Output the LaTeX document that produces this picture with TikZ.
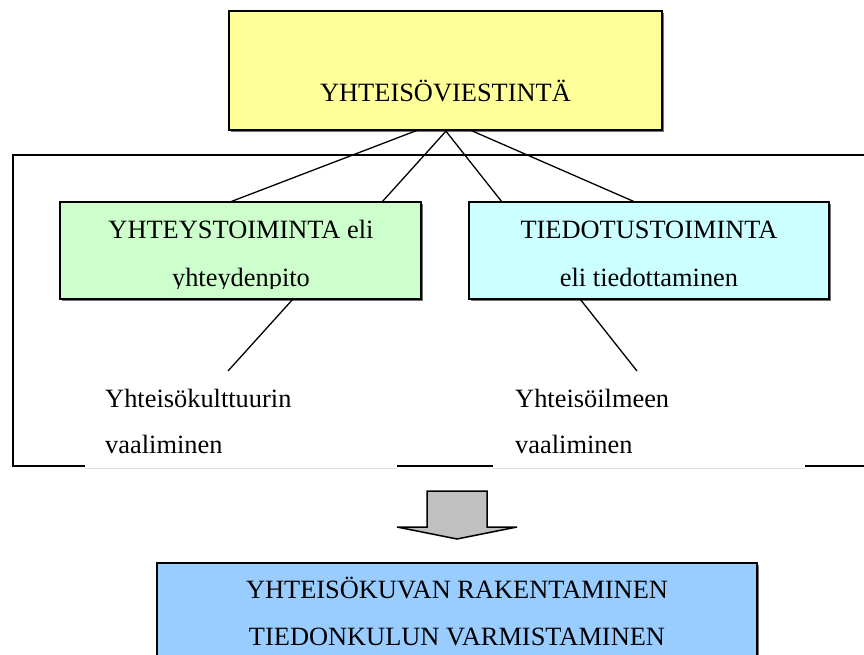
\documentclass[tikz,border=0pt]{standalone}
\usepackage{fontspec}
\setmainfont{Liberation Serif}
\usetikzlibrary{shadows}
\definecolor{boxyellow}{HTML}{FFFF99}
\definecolor{boxgreen}{HTML}{CCFFCC}
\definecolor{boxcyan}{HTML}{CCFFFF}
\definecolor{boxblue}{HTML}{99CCFF}
\definecolor{arrowgray}{HTML}{C0C0C0}
\begin{document}
\begin{tikzpicture}[x=1pt,y=-1pt,
  every node/.style={font=\fontsize{26.4}{46}\selectfont},
  box/.style={draw=black, line width=1.8pt, inner sep=0pt, outer sep=0pt,
    general shadow={fill=black!55, shadow xshift=1.6pt, shadow yshift=-1.6pt}},
  textbox/.style={fill=white, draw=none, inner sep=0pt, outer sep=0pt},
  lbl/.style={anchor=base, inner sep=0pt},
  lblw/.style={anchor=base west, inner sep=0pt},
  link/.style={line width=1.3pt},
  frame/.style={line width=2pt}
]
\clip (0,0) rectangle (864,655);
\fill[white] (0,0) rectangle (864,655);

% surrounding frame, open on the right
\draw[frame] (870,155) -- (13,155) -- (13,466) -- (870,466);

% main boxes
\node[box, fill=boxyellow, minimum width=433pt, minimum height=119pt] (top) at (445.5,70.5) {};
\node[box, fill=boxgreen, minimum width=361pt, minimum height=97pt] (grn) at (240.5,250.5) {};
\node[box, fill=boxcyan, minimum width=360pt, minimum height=97pt] (cyn) at (649,250.5) {};
\node[box, fill=boxblue, minimum width=600pt, minimum height=110pt] (blu) at (457,618) {};

% plain text areas on the lower edge of the frame
\node[textbox, minimum width=312pt, minimum height=96pt] (tl) at (241,419) {};
\node[textbox, minimum width=312pt, minimum height=96pt] (tr) at (649,419) {};
\draw[black!12, line width=0.8pt] (tl.south west) ++(0,1.5) -- ++(312,0);
\draw[black!12, line width=0.8pt] (tr.south west) ++(0,1.5) -- ++(312,0);

% connectors
\draw[link] ([xshift=-27.5pt]top.south) -- ([xshift=-10.5pt]grn.north);
\draw[link] ([xshift=1.5pt]top.south) -- ([xshift=141.5pt]grn.north);
\draw[link] ([xshift=-0.5pt]top.south) -- ([xshift=-147pt]cyn.north);
\draw[link] ([xshift=24.5pt]top.south) -- ([xshift=-14pt]cyn.north);
\draw[link] ([xshift=52.5pt]grn.south) -- ([xshift=-13pt]tl.north);
\draw[link] ([xshift=-69pt]cyn.south) -- ([xshift=-12pt]tr.north);

% texts
\node[lbl] (ttop) at (445.5,102) {YHTEISÖVIESTINTÄ};
\node[lbl] (tg1) at (241,238) {YHTEYSTOIMINTA eli};
\begin{scope}
  \clip (60,202) rectangle (421,288.5);
  \node[lbl] (tg2) at (241,286) {yhteydenpito};
\end{scope}
\node[lbl] (tc1) at (649,238) {TIEDOTUSTOIMINTA};
\node[lbl] (tc2) at (649,286) {eli tiedottaminen};
\node[lblw] (tl1) at (105,407) {Yhteisökulttuurin};
\node[lblw] (tl2) at (105,453) {vaaliminen};
\node[lblw] (tr1) at (515,407) {Yhteisöilmeen};
\node[lblw] (tr2) at (515,453) {vaaliminen};
\node[lbl] (tb1) at (457,598) {YHTEISÖKUVAN RAKENTAMINEN};
\node[lbl] (tb2) at (457,645) {TIEDONKULUN VARMISTAMINEN};

% block arrow
\draw[fill=arrowgray, line width=1.5pt, line join=miter]
  (427,491) -- (487,491) -- (487,527) -- (517,527) -- (457,539)
  -- (397,527) -- (427,527) -- cycle;
\end{tikzpicture}
\end{document}
